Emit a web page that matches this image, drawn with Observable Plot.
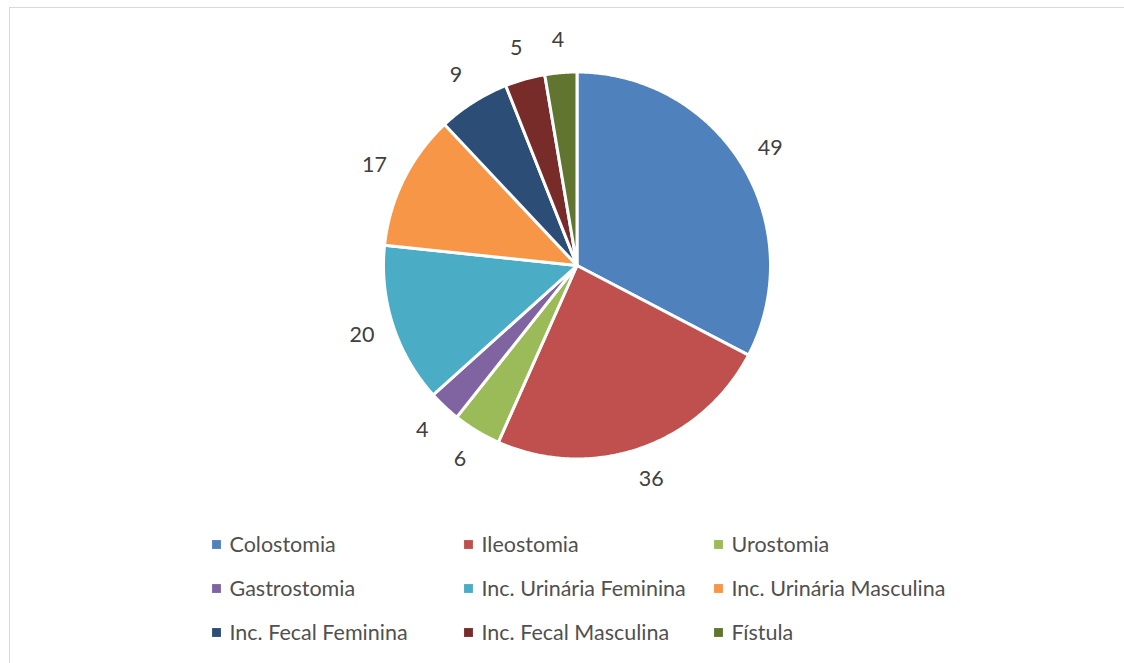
<!DOCTYPE html>
<html>
<head>
<meta charset="utf-8">
<script src="https://cdn.jsdelivr.net/npm/d3@7"></script>
<script src="https://cdn.jsdelivr.net/npm/@observablehq/plot@0.6"></script>
<style>
  html, body { margin: 0; padding: 0; background: #fff; }
  #wrap { position: relative; width: 1124px; height: 663px; overflow: hidden; }
  #frame { position: absolute; left: 9px; top: 7px; width: 1200px; height: 800px; border: 1px solid #d9d9d9; box-sizing: border-box; }
  #chart { position: absolute; left: 0; top: 0; }
</style>
</head>
<body>
<div id="wrap"><div id="frame"></div><div id="chart"></div></div>
<script>
const categories = ["Colostomia", "Ileostomia", "Urostomia", "Gastrostomia", "Inc. Urinária Feminina", "Inc. Urinária Masculina", "Inc. Fecal Feminina", "Inc. Fecal Masculina", "Fístula"];
const values = [49, 36, 6, 4, 20, 17, 9, 5, 4];
const colors = ["#4F81BD", "#C0504D", "#9BBB59", "#8064A2", "#4BACC6", "#F79646", "#2C4D75", "#772C2A", "#5F7530"];

// layout
const W = 1124, H = 663;
const cx = 576.5, cy = 265, R = 193.5, labelR = 226, labelDy = 0;
const legendCols = [216, 468, 718], legendRows = [544, 588, 632];

const data = categories.map((c, i) => ({cat: c, value: values[i]}));
const arcs = d3.pie().sort(null).value(d => d.value)(data);

const slicePts = [];
arcs.forEach(a => {
  slicePts.push({cat: a.data.cat, x: cx, y: cy});
  const n = Math.max(2, Math.ceil((a.endAngle - a.startAngle) / (Math.PI / 360)));
  for (let k = 0; k <= n; k++) {
    const t = a.startAngle + (a.endAngle - a.startAngle) * k / n;
    slicePts.push({cat: a.data.cat, x: cx + R * Math.sin(t), y: cy - R * Math.cos(t)});
  }
  slicePts.push({cat: a.data.cat, x: cx, y: cy});
});

const labels = arcs.map(a => {
  const m = (a.startAngle + a.endAngle) / 2;
  return {text: String(a.data.value), x: cx + labelR * Math.sin(m), y: cy - labelR * Math.cos(m) + labelDy};
});

const legend = categories.map((c, i) => ({cat: c, x: legendCols[i % 3], y: legendRows[Math.floor(i / 3)]}));

const font = "Lato, 'Open Sans', sans-serif";

const chart = Plot.plot({
  width: W, height: H, margin: 0,
  style: {background: "transparent", fontFamily: font},
  x: {domain: [0, W], range: [0, W], axis: null},
  y: {domain: [0, H], range: [0, H], axis: null},
  color: {domain: categories, range: colors},
  marks: [
    Plot.line(slicePts, {x: "x", y: "y", z: "cat", fill: "cat", stroke: "white", strokeWidth: 3, strokeLinejoin: "round", curve: "linear"}),
    Plot.text(labels, {x: "x", y: "y", text: "text", fill: "#404040", fontSize: 21.5}),
    Plot.dot(legend, {x: "x", y: "y", symbol: "square", r: 5, fill: "cat", stroke: null}),
    Plot.text(legend, {x: d => d.x + 13, y: d => d.y + 1, text: "cat", textAnchor: "start", fill: "#505050", fontSize: 21.5})
  ]
});
document.getElementById("chart").appendChild(chart);
</script>
</body>
</html>
